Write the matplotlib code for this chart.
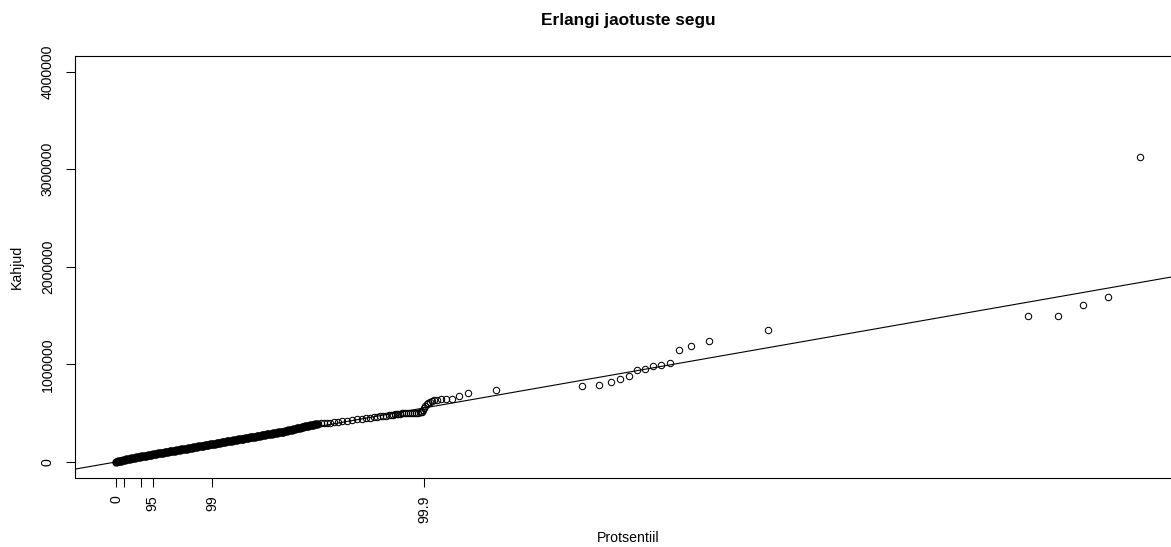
import matplotlib
matplotlib.use("Agg")
import matplotlib.pyplot as plt
import numpy as np

# ---------------- data (values in thousands) ----------------
UNIT = 1000

# theoretical quantiles (x) and sorted observed claims (y), dense body
body_x = [0, 3, 6, 9, 12, 15, 18, 21, 24, 27, 30, 33, 36, 39, 42, 45, 48, 51, 54, 57,
          60, 63, 66, 69, 72, 75, 78, 81, 84, 87, 90, 93, 96, 99, 102, 105, 108, 111, 114, 117,
          120, 123, 126, 129, 132, 135, 138, 141, 144, 147, 150, 153, 156, 159, 162, 165, 168, 171, 174, 177,
          180, 183, 186, 189, 192, 195, 198, 201, 204, 207, 210, 213, 216, 219, 222, 225, 228, 231, 234, 237,
          240, 243, 246, 249, 252, 255, 258, 261, 264, 267, 270, 273, 276, 279, 282, 285, 288, 291, 294, 297,
          300, 303, 306, 309, 312, 315, 318, 321, 324, 327, 330, 333, 336, 339, 342, 345, 348, 351, 354, 357, 360]
body_y = [0, 5, 9, 13, 17, 21, 25, 29, 33, 37, 40, 44, 47, 50, 53, 56, 59, 62, 65, 68,
          71, 74, 77, 80, 83, 86, 89, 92, 95, 98, 101, 104, 107, 110, 113, 116, 119, 122, 125, 128,
          131, 134, 137, 140, 143, 146, 149, 152, 155, 158, 161, 164, 167, 170, 173, 176, 179, 182, 185, 188,
          191, 194, 197, 200, 203, 206, 209, 212, 215, 218, 221, 224, 227, 230, 233, 236, 239, 242, 245, 248,
          251, 254, 257, 260, 263, 266, 269, 272, 275, 278, 281, 284, 287, 290, 293, 296, 299, 302, 305, 308,
          311, 315, 319, 323, 327, 331, 335, 339, 343, 347, 351, 355, 359, 363, 367, 371, 375, 379, 383, 387, 390]

# chain of individual circles above the body
chain_x = [362.3, 367.6, 373.0, 378.4, 383.8, 391.0, 398.2, 405.4, 414.3, 423.3, 432.3, 441.3,
           448.5, 455.7, 462.8, 468.2, 473.6, 479.0, 484.4, 489.8, 493.4, 497.0, 500.5, 504.1]
chain_y = [392.8, 395.9, 397.9, 401.0, 403.1, 406.1, 410.2, 415.4, 421.5, 428.7, 434.9, 442.0,
           448.2, 453.3, 458.4, 462.5, 466.6, 470.8, 474.9, 479.0, 482.0, 485.1, 488.2, 491.3]

# flat stretch just below the 99.9 percentile
flat_x = [505.9, 509.5, 513.1, 516.7, 520.3, 523.9, 527.5, 531.1, 534.7, 538.3, 541.9, 544.6, 547.2, 549.0]
flat_y = [494.3, 495.4, 496.4, 497.4, 498.4, 499.5, 500.5, 501.5, 502.5, 503.6, 504.6, 506.6, 509.7, 514.9]

# jump and upper tail
tail_x = [550.8, 552.6, 554.4, 557.1, 559.8, 563.4, 567.0, 571.1, 576.0, 583.2, 592.1, 602.4,
          615.5, 632.2, 681.9,
          836.9, 867.3, 888.1, 905.2, 921.3, 934.6, 948.6, 963.6, 977.7, 993.5,
          1011.0, 1031.8, 1063.9, 1170.5, 1637.4, 1691.3, 1736.7, 1780.6, 1838.6]
tail_y = [530.2, 555.9, 576.4, 591.8, 604.1, 615.4, 624.6, 630.7, 636.9, 640.0, 640.0, 645.1,
          675.9, 702.5, 738.4,
          774.3, 784.6, 820.5, 848.2, 875.9, 942.5, 950.7, 986.6, 990.0, 1014.3,
          1150.7, 1186.6, 1240.0, 1350.7, 1497.4, 1497.4, 1607.1, 1689.2, 3125.0]

# percentile ticks on the x axis (theoretical quantile positions, thousands)
pct_tick_pos = [0, 13.3, 43.8, 65.4, 172.4, 552.6]
pct_tick_labels = ["0", "", "", "95", "99", "99.9"]

y_ticks = [0, 1000000, 2000000, 3000000, 4000000]
y_limits = (0, 4000000)

ref_intercept = 0.0
ref_slope = 1.0

title = "Erlangi jaotuste segu"
xlabel = "Protsentiil"
ylabel = "Kahjud"

# ---------------- drawing ----------------
plt.rcParams['font.family'] = ['Liberation Sans', 'DejaVu Sans']

W, H = 1171, 547
fig = plt.figure(figsize=(W / 100, H / 100), dpi=100)
ax_l, ax_r, ax_t, ax_b = 75.4, 1181.0, 56.0, 477.5
ax = fig.add_axes([ax_l / W, 1 - ax_b / H, (ax_r - ax_l) / W, (ax_b - ax_t) / H])

bx = np.array(body_x) * UNIT
by = np.array(body_y) * UNIT
x_rest = np.array(chain_x + flat_x + tail_x) * UNIT
y_rest = np.array(chain_y + flat_y + tail_y) * UNIT
x_all = np.concatenate([bx, x_rest])

# heavily overplotted body (many coincident points -> solid band)
ax.plot(bx, by, linestyle='none', marker='o', markersize=4.0,
        markerfacecolor='none', markeredgecolor='black', markeredgewidth=2.0)
ax.plot(x_rest, y_rest, linestyle='none', marker='o', markersize=4.6,
        markerfacecolor='none', markeredgecolor='black', markeredgewidth=0.75)

ax.axline((0, ref_intercept), slope=ref_slope, color='black', linewidth=0.8)

xr = x_all.max() - x_all.min()
ax.set_xlim(x_all.min() - 0.04 * xr, x_all.max() + 0.04 * xr)
yr = y_limits[1] - y_limits[0]
ax.set_ylim(y_limits[0] - 0.04 * yr, y_limits[1] + 0.04 * yr)

ax.set_xticks(np.array(pct_tick_pos) * UNIT)
ax.set_xticklabels(pct_tick_labels, rotation=90, ha='center', va='top', fontsize=10.2)
ax.set_yticks(y_ticks)
ax.set_yticklabels([str(v) for v in y_ticks], rotation=90, ha='right', va='center', fontsize=10.2)

ax.tick_params(axis='x', length=6.3, width=0.75, pad=6.5, direction='out', colors='black')
ax.tick_params(axis='y', length=6.3, width=0.75, pad=8.4, direction='out', colors='black')
for s in ax.spines.values():
    s.set_linewidth(0.8)
    s.set_color('black')

fig.text(628 / W, 1 - 20 / H, title, ha='center', va='center', fontsize=12.4, fontweight='bold')
fig.text(628 / W, 1 - 538 / H, xlabel, ha='center', va='center', fontsize=10.2)
fig.text(17 / W, 1 - 266.5 / H, ylabel, ha='center', va='center', rotation=90, fontsize=10.2)

fig.savefig("out.png", dpi=100, facecolor='white')
